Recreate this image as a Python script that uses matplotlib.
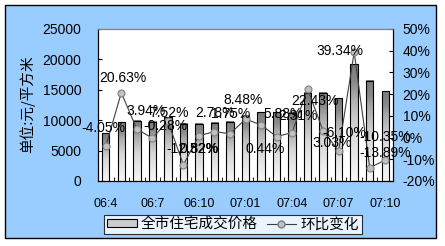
import numpy as np
import matplotlib.pyplot as plt
from matplotlib.patches import Rectangle, Patch
from matplotlib.lines import Line2D
from matplotlib.colors import LinearSegmentedColormap

plt.rcParams["font.family"] = ["Liberation Sans", "Noto Sans CJK SC"]

# 月份 (2006-04 .. 2007-10)
months = ["06:4", "06:5", "06:6", "06:7", "06:8", "06:9", "06:10", "06:11",
          "06:12", "07:01", "07:02", "07:03", "07:04", "07:05", "07:06",
          "07:07", "07:08", "07:09", "07:10"]
# 全市住宅成交价格 (元/平方米)
prices = [7850, 9700, 9900, 9750, 10450, 9400, 9450, 9600, 9750, 10750,
          11300, 11300, 11200, 14500, 14550, 13600, 19200, 16500, 14750]
# 环比变化 (%)
changes = [-4.05, 20.63, 3.94, -0.28, 7.52, -12.52, 0.82, 2.78, 1.75, 8.48,
           5.88, 0.44, 2.31, 22.43, 3.03, -6.10, 39.34, -13.89, -10.35]
price_ticks = [0, 5000, 10000, 15000, 20000, 25000]
pct_ticks = [-20, -10, 0, 10, 20, 30, 40, 50]

# label offsets in pixels (dx, dy) -- mimic the hand-placed labels
label_off = [(-2, 18), (2, 15), (9, 18), (13, 12), (1, 8), (9, 16), (0, -13),
             (1, 19), (1, 20), (-2, 19), (22, 11), (-11, -12), (6, 17),
             (7, -12), (9, -12), (6, 18), (-14, 1), (15, 15), (0, 23)]

W, H = 445, 246
fig = plt.figure(figsize=(W / 100, H / 100), dpi=100)
fig.patch.set_facecolor("white")
fig.patches.append(Rectangle((5 / W, 1 - 238 / H), 431 / W, 233 / H,
                             transform=fig.transFigure, facecolor="#99ccff",
                             edgecolor="black", linewidth=1.0, zorder=-10))

ax = fig.add_axes([98 / W, 65 / H, 295 / W, 152 / H])
ax.set_facecolor("white")
ax2 = ax.twinx()

grey = LinearSegmentedColormap.from_list(
    "bar", [(0, "#f6f6f6"), (0.45, "#d8d8d8"), (0.72, "#acacac"),
            (0.85, "#8a8a8a"), (1, "#7a7a7a")])
grad = np.linspace(1, 0, 100).reshape(-1, 1)
x = np.arange(len(months))
bw = 0.48
for xi, p in zip(x, prices):
    ax.imshow(grad, extent=(xi - bw / 2, xi + bw / 2, 0, p), aspect="auto",
              cmap=grey, vmin=0, vmax=1, zorder=2)
ax.bar(x, prices, width=bw, fill=False, edgecolor="black", linewidth=0.8,
       zorder=3)

ax.set_xlim(-0.5, len(months) - 0.5)
ax.set_ylim(0, 25000)
ax.set_yticks(price_ticks)
ax.set_xticks(x[::3])
ax.set_xticklabels(months[::3])
ax.set_xticks(np.arange(-0.5, len(months), 1), minor=True)
ax.tick_params(axis="x", which="major", length=0, pad=12, labelsize=9)
ax.tick_params(axis="x", which="minor", direction="in", length=3)
ax.tick_params(axis="y", direction="in", length=3, pad=12, labelsize=10)

ax2.plot(x, changes, color="#404040", linewidth=0.8, marker="o",
         markersize=5, markerfacecolor="#c0c0c0", markeredgecolor="#808080",
         markeredgewidth=0.8, zorder=5)
ax2.set_ylim(-20, 50)
ax2.set_yticks(pct_ticks)
ax2.set_yticklabels([f"{t}%" for t in pct_ticks])
ax2.tick_params(axis="y", direction="in", length=3, pad=7, labelsize=10)

for xi, c, (dx, dy) in zip(x, changes, label_off):
    ax2.annotate(f"{c:.2f}%", (xi, c), xytext=(dx, dy),
                 textcoords="offset pixels", ha="center", va="center",
                 fontsize=10, zorder=6)

for a in (ax, ax2):
    a.spines["top"].set_color("#808080")
    a.spines["top"].set_linestyle((0, (1, 1)))
    a.spines["top"].set_linewidth(0.8)
    for s in ("left", "right", "bottom"):
        a.spines[s].set_color("black")
        a.spines[s].set_linewidth(0.8)

fig.text(27 / W, 1 - 104 / H, "单位:元/平方米", rotation=90, ha="center",
         va="center", fontsize=10.5, family=["Noto Sans CJK SC"])

handles = [Patch(facecolor="#cccccc", edgecolor="black", linewidth=0.8),
           Line2D([], [], color="#404040", linewidth=0.8, marker="o",
                  markersize=5, markerfacecolor="#c0c0c0",
                  markeredgecolor="#808080")]
leg = fig.legend(handles, ["全市住宅成交价格", "环比变化"], loc="center",
                 bbox_to_anchor=(233 / W, 1 - 224.5 / H), ncol=2,
                 frameon=True, fancybox=False, fontsize=10.5,
                 handlelength=2.0, handleheight=0.5, handletextpad=0.3,
                 columnspacing=0.6, borderpad=0.2, borderaxespad=0)
leg.get_frame().set_edgecolor("black")
leg.get_frame().set_linewidth(0.8)
for t in leg.get_texts():
    t.set_family(["Noto Sans CJK SC"])

fig.savefig("out.png", dpi=100)
